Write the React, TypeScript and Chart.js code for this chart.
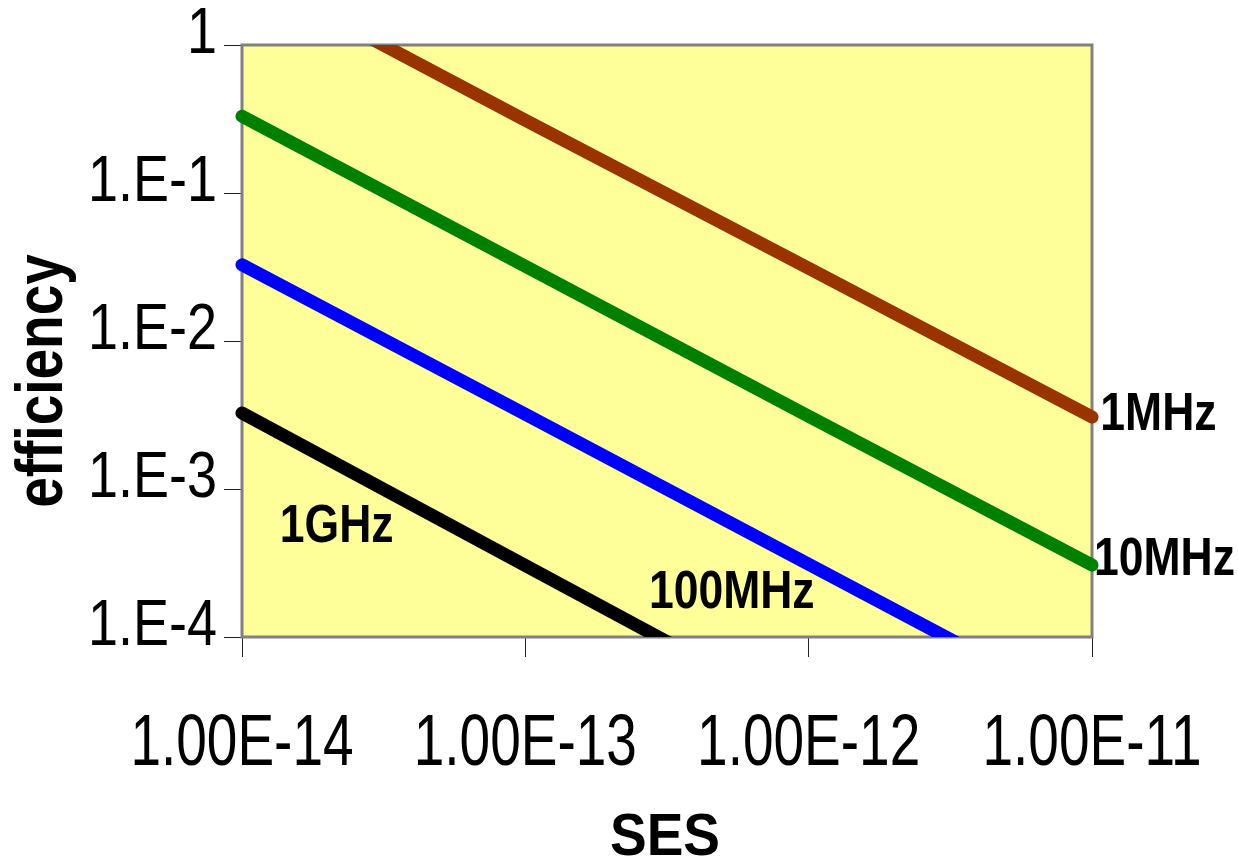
import React, { useEffect, useRef } from "react";
import { Chart, registerables } from "chart.js";

Chart.register(...registerables);

// ---- data ----
const sesValues = [1e-14, 1e-13, 1e-12, 1e-11];
const eff1MHz = [3.2, 0.31, 0.031, 0.00306];
const eff10MHz = [0.33, 0.032, 0.0031, 0.000306];
const eff100MHz = [0.0327, 0.0032, 0.00031, 0.00003];
const eff1GHz = [0.00326, 0.000304, 0.0000284, 0.0000027];

const seriesNames = ["1MHz", "10MHz", "100MHz", "1GHz"];
const seriesColors = ["#993300", "#008000", "#0000FF", "#000000"];
const labelSES = [1.07e-11, 1.016e-11, 2.73e-13, 1.36e-14];
const labelEff = [2.5e-3, 2.62e-4, 1.57e-4, 4.38e-4];

const xTickValues = [1e-14, 1e-13, 1e-12, 1e-11];
const xTickLabels = ["1.00E-14", "1.00E-13", "1.00E-12", "1.00E-11"];
const yTickValues = [1, 1e-1, 1e-2, 1e-3, 1e-4];
const yTickLabels = ["1", "1.E-1", "1.E-2", "1.E-3", "1.E-4"];

const xTitle = "SES";
const yTitle = "efficiency";

const FONT = '"Liberation Sans", Arial, Helvetica, sans-serif';

function drawText(
  ctx: CanvasRenderingContext2D,
  text: string,
  x: number,
  y: number,
  size: number,
  bold: boolean,
  align: CanvasTextAlign,
  sy: number,
  rotate = false
) {
  ctx.save();
  ctx.translate(x, y);
  if (rotate) ctx.rotate(-Math.PI / 2);
  ctx.scale(1, sy);
  ctx.font = `${bold ? "bold " : ""}${size}px ${FONT}`;
  ctx.textAlign = align;
  ctx.textBaseline = "alphabetic";
  ctx.fillStyle = "#000000";
  ctx.fillText(text, 0, 0);
  ctx.restore();
}

const plotPlugin = {
  id: "plotDecor",
  beforeDraw(chart: any) {
    const { ctx, chartArea: a } = chart;
    ctx.save();
    ctx.fillStyle = "#FFFFFF";
    ctx.fillRect(0, 0, chart.width, chart.height);
    ctx.fillStyle = "#FFFF99";
    ctx.fillRect(a.left, a.top, a.right - a.left, a.bottom - a.top);
    ctx.restore();
  },
  beforeDatasetsDraw(chart: any) {
    const { ctx, chartArea: a } = chart;
    ctx.save();
    ctx.strokeStyle = "#808080";
    ctx.lineWidth = 3;
    ctx.strokeRect(a.left, a.top, a.right - a.left, a.bottom - a.top);
    ctx.restore();
  },
  afterDraw(chart: any) {
    const { ctx, chartArea: a } = chart;
    const xs = chart.scales.x;
    const ys = chart.scales.y;
    yTickValues.forEach((v, i) => {
      drawText(ctx, yTickLabels[i], a.left - 25, ys.getPixelForValue(v) + 8, 54, false, "right", 1.19);
    });
    xTickValues.forEach((v, i) => {
      drawText(ctx, xTickLabels[i], xs.getPixelForValue(v), a.bottom + 128, 55, false, "center", 1.31);
    });
    drawText(ctx, xTitle, (a.left + a.right) / 2 - 2, a.bottom + 218, 55, true, "center", 1.09);
    drawText(ctx, yTitle, 62, (a.top + a.bottom) / 2 + 40, 55, true, "center", 1.2, true);
    seriesNames.forEach((name, i) => {
      drawText(ctx, name, xs.getPixelForValue(labelSES[i]), ys.getPixelForValue(labelEff[i]), 44.5, true, "left", 1.2);
    });
  },
};

export default function App() {
  const ref = useRef<HTMLCanvasElement>(null);

  useEffect(() => {
    document.body.style.margin = "0";
    const canvas = ref.current;
    if (!canvas) return;
    const series = [eff1MHz, eff10MHz, eff100MHz, eff1GHz];
    const chart = new Chart(canvas, {
      type: "line",
      data: {
        datasets: series.map((vals, i) => ({
          label: seriesNames[i],
          data: sesValues.map((s, j) => ({ x: s, y: vals[j] })),
          borderColor: seriesColors[i],
          backgroundColor: seriesColors[i],
          borderWidth: 13,
          borderCapStyle: "round",
          borderJoinStyle: "round",
          pointRadius: 0,
          pointHoverRadius: 0,
          tension: 0,
          fill: false,
          clip: { left: 12, right: 12, top: 0, bottom: 0 },
        })),
      },
      options: {
        animation: false,
        responsive: false,
        devicePixelRatio: 1,
        layout: { padding: { left: 224, top: 45, right: 146, bottom: 203 } },
        plugins: {
          legend: { display: false },
          tooltip: { enabled: false },
          title: { display: false },
        },
        scales: {
          x: {
            type: "logarithmic",
            min: 1e-14,
            max: 1e-11,
            afterBuildTicks: (scale: any) => {
              scale.ticks = xTickValues.map((v) => ({ value: v }));
            },
            ticks: { display: false },
            grid: {
              display: true,
              drawOnChartArea: false,
              drawTicks: true,
              tickLength: 20,
              color: "#222222",
              lineWidth: 1,
            },
            border: { display: false },
          },
          y: {
            type: "logarithmic",
            min: 1e-4,
            max: 1,
            afterBuildTicks: (scale: any) => {
              scale.ticks = yTickValues.map((v) => ({ value: v }));
            },
            ticks: { display: false },
            grid: {
              display: true,
              drawOnChartArea: false,
              drawTicks: true,
              tickLength: 18,
              color: "#222222",
              lineWidth: 1,
            },
            border: { display: false },
          },
        },
      },
      plugins: [plotPlugin],
    } as any);
    return () => chart.destroy();
  }, []);

  return <canvas ref={ref} width={1238} height={860} style={{ display: "block" }} />;
}
